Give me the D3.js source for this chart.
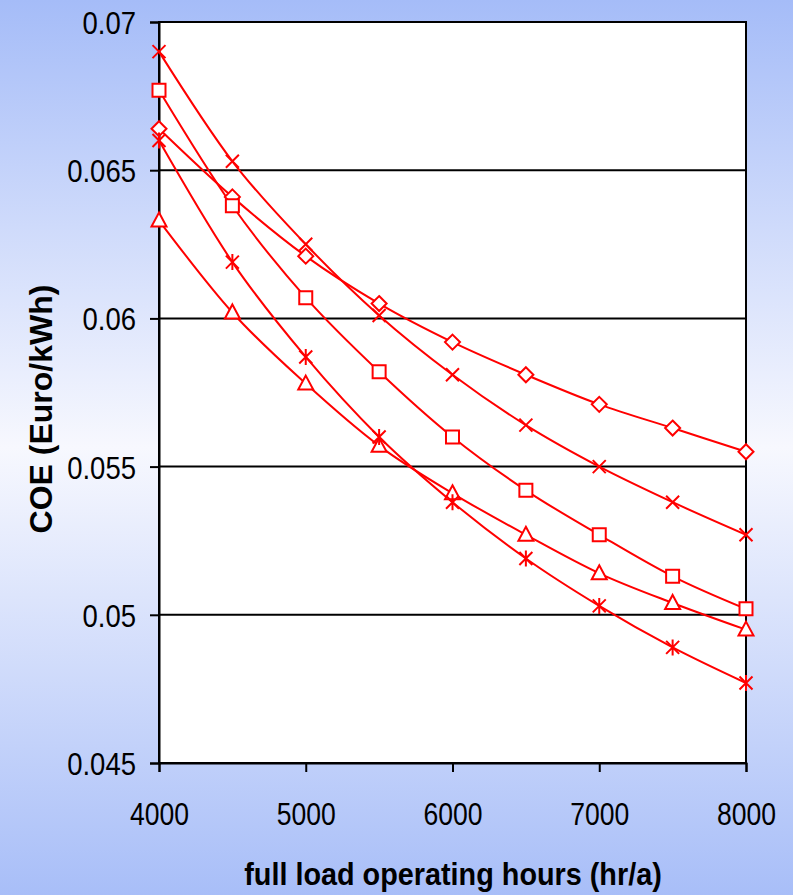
<!DOCTYPE html>
<html>
<head>
<script src="https://d3js.org/d3.v7.min.js"></script>
<style>
  body { margin: 0; padding: 0; }
  svg { display: block; }
  text { font-family: "Liberation Sans", Arial, sans-serif; fill: #000; }
</style>
</head>
<body>
<div id="chart"></div>
<script>
// data
var hours = [4000, 4500, 5000, 5500, 6000, 6500, 7000, 7500, 8000];
var diamond  = [0.0664, 0.0641, 0.0621, 0.0605, 0.0592, 0.0581, 0.0571, 0.0563, 0.0555];
var cross    = [0.0690, 0.0653, 0.0625, 0.0601, 0.0581, 0.0564, 0.0550, 0.0538, 0.0527];
var square   = [0.0677, 0.0638, 0.0607, 0.0582, 0.0560, 0.0542, 0.0527, 0.0513, 0.0502];
var triangle = [0.0633, 0.0602, 0.0578, 0.0557, 0.0541, 0.0527, 0.0514, 0.0504, 0.0495];
var star     = [0.0660, 0.0619, 0.0587, 0.0560, 0.0538, 0.0519, 0.0503, 0.0489, 0.0477];
var yTicks = [0.045, 0.05, 0.055, 0.06, 0.065, 0.07];
var xTicks = [4000, 5000, 6000, 7000, 8000];

var series = [
  { values: diamond, marker: "diamond" },
  { values: cross, marker: "x" },
  { values: square, marker: "square" },
  { values: triangle, marker: "triangle" },
  { values: star, marker: "star" }
];

var W = 793, H = 895;
var svg = d3.select("#chart").append("svg").attr("width", W).attr("height", H);

// background gradient, blue at top and bottom
var grad = svg.append("defs").append("linearGradient")
  .attr("id", "bg").attr("x1", 0).attr("y1", 0).attr("x2", 0).attr("y2", 1);
grad.append("stop").attr("offset", "0%").attr("stop-color", "#a5bcf8");
grad.append("stop").attr("offset", "50%").attr("stop-color", "#f7f8fe");
grad.append("stop").attr("offset", "100%").attr("stop-color", "#a8bef8");
svg.append("rect").attr("width", W).attr("height", H).attr("fill", "url(#bg)");

var x = d3.scaleLinear().domain([4000, 8000]).range([159, 746]);
var y = d3.scaleLinear().domain([0.045, 0.07]).range([763, 22]);

// plot area
svg.append("rect")
  .attr("x", x(4000)).attr("y", y(0.07))
  .attr("width", x(8000) - x(4000)).attr("height", y(0.045) - y(0.07))
  .attr("fill", "#fff").attr("stroke", "#000").attr("stroke-width", 2);

// gridlines
svg.selectAll(".grid").data(yTicks).enter().append("line")
  .attr("x1", x(4000)).attr("x2", x(8000))
  .attr("y1", d => y(d)).attr("y2", d => y(d))
  .attr("stroke", "#000").attr("stroke-width", 2);

// axes
var yAxis = svg.append("g").attr("transform", "translate(" + x(4000) + ",0)")
  .call(d3.axisLeft(y).tickValues(yTicks).tickSize(9).tickFormat(d => String(+d.toFixed(3))));
var xAxis = svg.append("g").attr("transform", "translate(0," + y(0.045) + ")")
  .call(d3.axisBottom(x).tickValues(xTicks).tickSize(9).tickFormat(d3.format("d")));

[yAxis, xAxis].forEach(g => {
  g.select(".domain").attr("stroke", "#000").attr("stroke-width", 2);
  g.selectAll(".tick line").attr("stroke", "#000").attr("stroke-width", 2);
  g.selectAll(".tick text").attr("font-family", "Liberation Sans, Arial, sans-serif")
    .attr("font-size", 32).attr("fill", "#000").attr("x", 0).attr("y", 0);
});
yAxis.selectAll(".tick text").attr("dy", "0.36em").attr("text-anchor", "end")
  .attr("transform", "translate(-23,0) scale(0.86,1)");
xAxis.selectAll(".tick text").attr("dy", null).attr("text-anchor", "middle")
  .attr("transform", "translate(0,62) scale(0.83,1)");

// axis titles
svg.append("text")
  .attr("transform", "translate(453,885) scale(0.9,1)")
  .attr("text-anchor", "middle").attr("font-size", 32).attr("font-weight", "bold")
  .text("full load operating hours (hr/a)");
svg.append("text")
  .attr("transform", "translate(52,409) rotate(-90)")
  .attr("text-anchor", "middle").attr("font-size", 32).attr("font-weight", "bold")
  .text("COE (Euro/kWh)");

// smoothed lines + markers
var line = d3.line().curve(d3.curveCardinal.tension(0))
  .x((d, i) => x(hours[i])).y(d => y(d));

function markerPath(type) {
  var p = d3.path();
  if (type === "diamond") {
    p.moveTo(0, -7.5); p.lineTo(7.5, 0); p.lineTo(0, 7.5); p.lineTo(-7.5, 0); p.closePath();
  } else if (type === "square") {
    p.rect(-6.5, -6.5, 13, 13);
  } else if (type === "triangle") {
    p.moveTo(0, -8); p.lineTo(7.5, 6); p.lineTo(-7.5, 6); p.closePath();
  } else {
    p.moveTo(-6.5, -6.5); p.lineTo(6.5, 6.5);
    p.moveTo(6.5, -6.5); p.lineTo(-6.5, 6.5);
    if (type === "star") { p.moveTo(0, -8); p.lineTo(0, 8); }
  }
  return p.toString();
}

series.forEach(s => {
  svg.append("path").datum(s.values)
    .attr("d", line).attr("fill", "none")
    .attr("stroke", "#ff0000").attr("stroke-width", 2);
});
series.forEach(s => {
  svg.selectAll(null).data(s.values).enter().append("path")
    .attr("transform", (d, i) => "translate(" + x(hours[i]) + "," + y(d) + ")")
    .attr("d", markerPath(s.marker))
    .attr("fill", (s.marker === "x" || s.marker === "star") ? "none" : "#fff")
    .attr("stroke", "#ff0000").attr("stroke-width", 2);
});
</script>
</body>
</html>
